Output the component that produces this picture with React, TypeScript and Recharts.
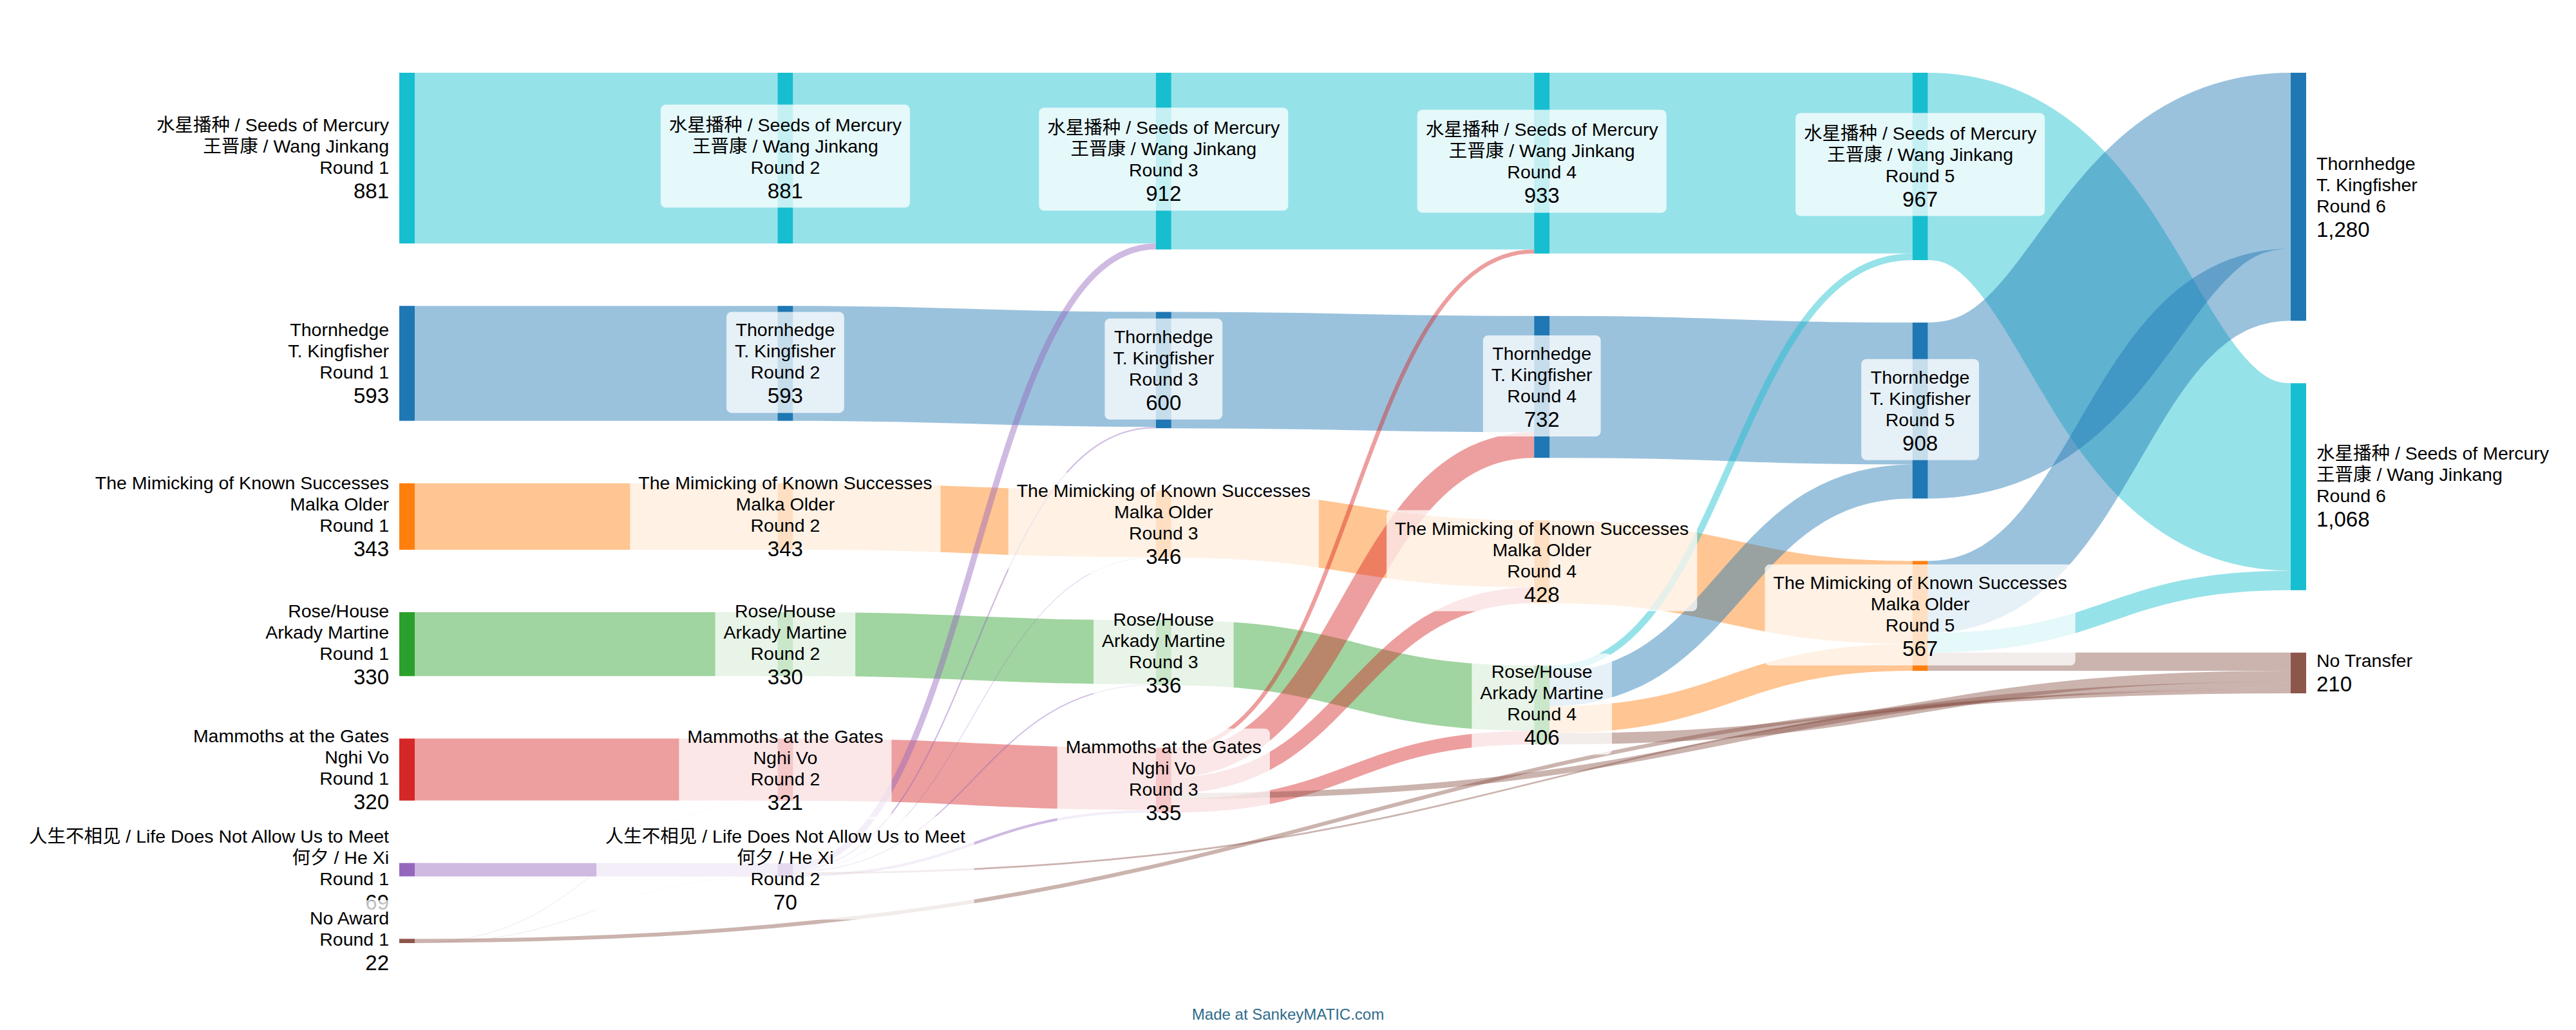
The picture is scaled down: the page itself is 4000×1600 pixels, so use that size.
import React from 'react';
import { Sankey } from 'recharts';

const FONT = '"Liberation Sans", Arial, "Noto Sans CJK SC", sans-serif';
const NAME_SIZE = 28.5;
const VALUE_SIZE = 33;
const LINE_H = 33;
const VALUE_GAP = 38;
const CAP = 20;

const candidateLabels: Record<string, string[]> = {
  seeds: ['水星播种 / Seeds of Mercury', '王晋康 / Wang Jinkang'],
  thorn: ['Thornhedge', 'T. Kingfisher'],
  mimic: ['The Mimicking of Known Successes', 'Malka Older'],
  rose: ['Rose/House', 'Arkady Martine'],
  mammoth: ['Mammoths at the Gates', 'Nghi Vo'],
  life: ['人生不相见 / Life Does Not Allow Us to Meet', '何夕 / He Xi'],
  noaward: ['No Award'],
  none: ['No Transfer'],
};

const candidateColors: Record<string, string> = {
  seeds: '#17becf',
  thorn: '#1f77b4',
  mimic: '#ff7f0e',
  rose: '#2ca02c',
  mammoth: '#d62728',
  life: '#9467bd',
  noaward: '#8c564b',
  none: '#8c564b',
};

// nodes column by column: [candidate, round]
const nodeList: [string, number][] = [
  ['seeds', 1], ['thorn', 1], ['mimic', 1], ['rose', 1], ['mammoth', 1], ['life', 1], ['noaward', 1],
  ['seeds', 2], ['thorn', 2], ['mimic', 2], ['rose', 2], ['mammoth', 2], ['life', 2],
  ['seeds', 3], ['thorn', 3], ['mimic', 3], ['rose', 3], ['mammoth', 3],
  ['seeds', 4], ['thorn', 4], ['mimic', 4], ['rose', 4],
  ['seeds', 5], ['thorn', 5], ['mimic', 5],
  ['thorn', 6], ['seeds', 6], ['none', 6],
];

// vote transfers: [from, to, votes]
const flows: [string, string, number][] = [
  ['seeds1', 'seeds2', 881], ['thorn1', 'thorn2', 593], ['mimic1', 'mimic2', 343],
  ['rose1', 'rose2', 330], ['mammoth1', 'mammoth2', 320], ['life1', 'life2', 69],
  ['noaward1', 'mammoth2', 1], ['noaward1', 'life2', 1], ['noaward1', 'none6', 20],

  ['seeds2', 'seeds3', 881], ['thorn2', 'thorn3', 593], ['mimic2', 'mimic3', 343],
  ['rose2', 'rose3', 330], ['mammoth2', 'mammoth3', 321],
  ['life2', 'seeds3', 31], ['life2', 'thorn3', 7], ['life2', 'mimic3', 3],
  ['life2', 'rose3', 6], ['life2', 'mammoth3', 14], ['life2', 'none6', 9],

  ['seeds3', 'seeds4', 912], ['thorn3', 'thorn4', 600], ['mimic3', 'mimic4', 346], ['rose3', 'rose4', 336],
  ['mammoth3', 'seeds4', 21], ['mammoth3', 'thorn4', 132], ['mammoth3', 'mimic4', 82],
  ['mammoth3', 'rose4', 70], ['mammoth3', 'none6', 30],

  ['seeds4', 'seeds5', 933], ['thorn4', 'thorn5', 732], ['mimic4', 'mimic5', 428],
  ['rose4', 'seeds5', 34], ['rose4', 'thorn5', 176], ['rose4', 'mimic5', 139], ['rose4', 'none6', 57],

  ['seeds5', 'seeds6', 967], ['thorn5', 'thorn6', 908],
  ['mimic5', 'thorn6', 372], ['mimic5', 'seeds6', 101], ['mimic5', 'none6', 94],
];

const nodeIds = nodeList.map(([k, r]) => `${k}${r}`);
const keyOf = (id: string) => id.replace(/\d+$/, '');

const data = {
  nodes: nodeIds.map((id) => ({ name: id })),
  links: flows.map(([s, t, v]) => ({ source: nodeIds.indexOf(s), target: nodeIds.indexOf(t), value: v })),
};

const linkColor = (from: string, to: string) => {
  if (to === 'none') return candidateColors.none;
  if (from === 'noaward' || from === 'life' || from === 'mammoth') return candidateColors[from];
  return candidateColors[to];
};

let ctx: CanvasRenderingContext2D | null = null;
const measure = (text: string, size: number) => {
  if (!ctx) ctx = document.createElement('canvas').getContext('2d');
  if (!ctx) return text.length * size * 0.55;
  ctx.font = `${size}px ${FONT}`;
  return ctx.measureText(text).width;
};

const renderLink = (props: any) => {
  const { sourceX, targetX, sourceY, targetY, sourceControlX, targetControlX, linkWidth, index } = props;
  const [s, t] = flows[index];
  return (
    <path
      d={`M${sourceX},${sourceY}C${sourceControlX},${sourceY} ${targetControlX},${targetY} ${targetX},${targetY}`}
      fill="none"
      stroke={linkColor(keyOf(s), keyOf(t))}
      strokeWidth={linkWidth}
      strokeOpacity={0.45}
    />
  );
};

const renderNode = (props: any) => {
  const { x, y, width, height, index, payload } = props;
  const [key, round] = nodeList[index];
  const lines = key === 'none' ? [...candidateLabels[key]] : [...candidateLabels[key], `Round ${round}`];
  const value = Number(payload.value).toLocaleString('en-US');
  const cy = y + height / 2;
  const span = LINE_H * (lines.length - 1) + VALUE_GAP;
  const firstBase = cy - (span + CAP) / 2 + CAP;
  const lastBase = firstBase + span;

  let anchor: 'start' | 'middle' | 'end' = 'middle';
  let tx = x + width / 2;
  if (round === 1) {
    anchor = 'end';
    tx = x - 16;
  } else if (round === 6) {
    anchor = 'start';
    tx = x + width + 16;
  }

  const textW = Math.max(...lines.map((l) => measure(l, NAME_SIZE)), measure(value, VALUE_SIZE));
  const boxX = anchor === 'end' ? tx - textW - 13 : anchor === 'start' ? tx - 13 : tx - textW / 2 - 13;
  const boxTop = firstBase - (/[\u4e00-\u9fff]/.test(lines[0]) ? 41 : 38);

  return (
    <g>
      <rect x={x} y={y} width={width} height={height} fill={candidateColors[key]} />
      <rect
        x={boxX}
        y={boxTop}
        width={textW + 26}
        height={lastBase + 15 - boxTop}
        rx={8}
        fill="#ffffff"
        fillOpacity={0.75}
      />
      <text textAnchor={anchor} fontFamily={FONT} fill="#000">
        {lines.map((l, i) => (
          <tspan key={i} x={tx} y={firstBase + i * LINE_H} fontSize={NAME_SIZE}>
            {l}
          </tspan>
        ))}
        <tspan x={tx} y={lastBase} fontSize={VALUE_SIZE}>
          {value}
        </tspan>
      </text>
    </g>
  );
};

export default function App() {
  return (
    <div style={{ position: 'absolute', left: 0, top: 0, width: 4000, height: 1600, background: '#fff' }}>
      <Sankey
        width={4000}
        height={1600}
        data={data}
        nodeWidth={24}
        nodePadding={97}
        iterations={0}
        sort={false}
        linkCurvature={0.5}
        margin={{ top: 113, right: 419, bottom: 135, left: 620 }}
        link={renderLink}
        node={renderNode}
      />
      <div
        style={{
          position: 'absolute',
          left: 0,
          top: 1562,
          width: 4000,
          textAlign: 'center',
          fontFamily: FONT,
          fontSize: 24,
          color: '#2f6b8a',
        }}
      >
        Made at SankeyMATIC.com
      </div>
    </div>
  );
}
